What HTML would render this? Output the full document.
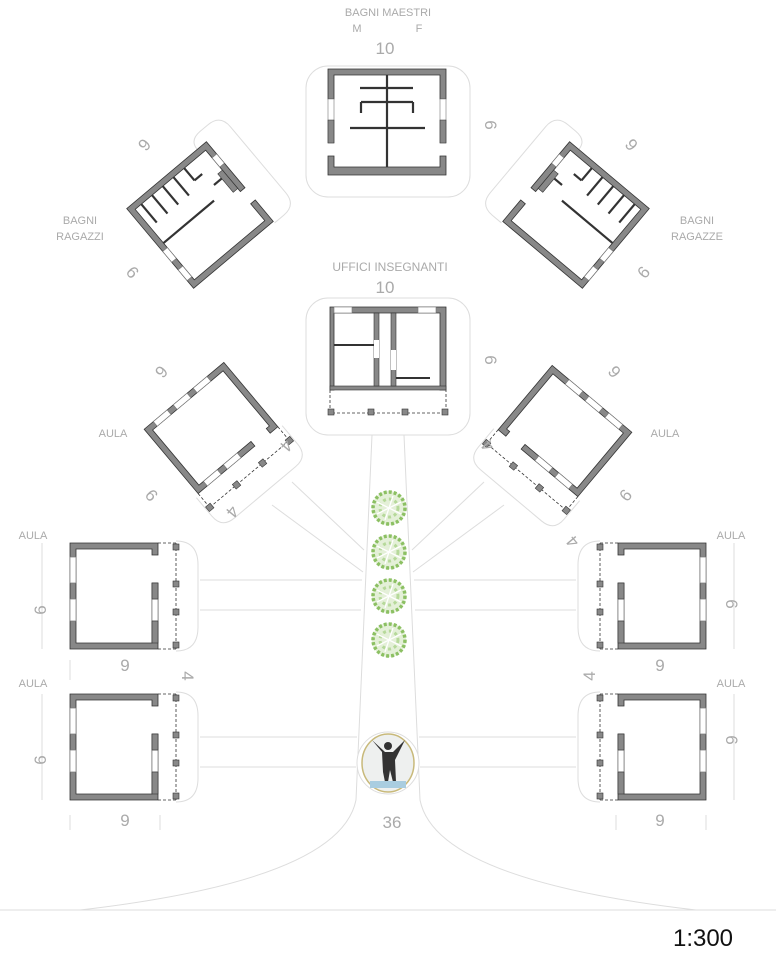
<!DOCTYPE html>
<html><head><meta charset="utf-8"><style>
html,body{margin:0;padding:0;background:#fff}
svg{display:block}
text{font-family:"Liberation Sans",sans-serif;fill:#aaa}
</style></head><body>
<svg width="776" height="960" viewBox="0 0 776 960" xmlns="http://www.w3.org/2000/svg">
<defs>
<g id="aula">
  <path d="M106,-2 Q128,-2 128,22 L128,84 Q128,108 106,108" fill="none" stroke="#ddd"/>
  <path d="M0,0H88V12H82V6H6V100H82V40H88V106H0Z" fill="#888" stroke="#333" stroke-width="0.8"/>
  <rect x="0" y="14" width="6" height="26" fill="#fff" stroke="#777" stroke-width="0.7"/>
  <rect x="0" y="56" width="6" height="22" fill="#fff" stroke="#777" stroke-width="0.7"/>
  <rect x="82" y="56" width="6" height="22" fill="#fff" stroke="#777" stroke-width="0.7"/>
  <rect x="82" y="40" width="6" height="16" fill="#888" stroke="#333" stroke-width="0.6"/>
  <rect x="82" y="78" width="6" height="22" fill="#888" stroke="#333" stroke-width="0.6"/>
  <line x1="106" y1="0" x2="106" y2="106" stroke="#333" stroke-dasharray="3,2" stroke-width="0.8"/>
  <line x1="88" y1="0" x2="106" y2="0" stroke="#333" stroke-dasharray="3,2" stroke-width="0.8"/>
  <line x1="88" y1="106" x2="106" y2="106" stroke="#333" stroke-dasharray="3,2" stroke-width="0.8"/>
  <rect x="103" y="1" width="6" height="6" fill="#888" stroke="#333" stroke-width="0.6"/>
  <rect x="103" y="38" width="6" height="6" fill="#888" stroke="#333" stroke-width="0.6"/>
  <rect x="103" y="66" width="6" height="6" fill="#888" stroke="#333" stroke-width="0.6"/>
  <rect x="103" y="99" width="6" height="6" fill="#888" stroke="#333" stroke-width="0.6"/>
</g>
<g id="raula">
  <path d="M-56,44 L-56,68 Q-56,84 -40,84 L40,84 Q56,84 56,68 L56,44" fill="none" stroke="#ddd"/>
  <path d="M-52,-42H52V42H42V36H46V-36H-46V36H22V42H-52Z" fill="#888" stroke="#333" stroke-width="0.8"/>
  <rect x="-40" y="-42" width="18" height="6" fill="#fff" stroke="#777" stroke-width="0.6"/>
  <rect x="-14" y="-42" width="18" height="6" fill="#fff" stroke="#777" stroke-width="0.6"/>
  <rect x="12" y="-42" width="18" height="6" fill="#fff" stroke="#777" stroke-width="0.6"/>
  <rect x="-40" y="36" width="18" height="6" fill="#fff" stroke="#777" stroke-width="0.6"/>
  <rect x="-14" y="36" width="18" height="6" fill="#fff" stroke="#777" stroke-width="0.6"/>
  <line x1="-52" y1="60" x2="52" y2="60" stroke="#333" stroke-dasharray="3,2" stroke-width="0.8"/>
  <line x1="-52" y1="42" x2="-52" y2="60" stroke="#333" stroke-dasharray="3,2" stroke-width="0.8"/>
  <line x1="52" y1="42" x2="52" y2="60" stroke="#333" stroke-dasharray="3,2" stroke-width="0.8"/>
  <rect x="-55" y="57" width="6" height="6" fill="#888" stroke="#333" stroke-width="0.6"/>
  <rect x="-20" y="57" width="6" height="6" fill="#888" stroke="#333" stroke-width="0.6"/>
  <rect x="14" y="57" width="6" height="6" fill="#888" stroke="#333" stroke-width="0.6"/>
  <rect x="49" y="57" width="6" height="6" fill="#888" stroke="#333" stroke-width="0.6"/>
</g>
<g id="bagno">
  <path d="M40,-52 Q40,-64 54,-64 L64,-64 Q80,-64 80,-48 L80,38 Q80,54 64,54 L52,54" fill="none" stroke="#ddd"/>
  <path d="M-52,-52H52V8H46V-46H-46V46H46V24H52V52H-52Z" fill="#888" stroke="#333" stroke-width="0.8"/>
  <rect x="-52" y="4" width="6" height="14" fill="#fff" stroke="#777" stroke-width="0.6"/>
  <rect x="-52" y="28" width="6" height="14" fill="#fff" stroke="#777" stroke-width="0.6"/>
  <rect x="46" y="-36" width="6" height="12" fill="#fff" stroke="#777" stroke-width="0.6"/>
  <rect x="40" y="-20" width="6" height="24" fill="#888" stroke="#333" stroke-width="0.6"/>
  <g stroke="#333" stroke-width="2.2">
    <line x1="-38" y1="-46" x2="-38" y2="-22"/>
    <line x1="-24" y1="-46" x2="-24" y2="-22"/>
    <line x1="-10" y1="-46" x2="-10" y2="-22"/>
    <line x1="4" y1="-46" x2="4" y2="-22"/>
    <line x1="18" y1="-46" x2="18" y2="-30"/><line x1="18" y1="-30" x2="28" y2="-30"/>
    <line x1="-46" y1="-2" x2="20" y2="-2"/>
    <line x1="30" y1="-14" x2="40" y2="-14"/>
  </g>
</g>
<g id="tree">
  <circle r="17" fill="#e4f0d8"/>
  <circle r="16" fill="none" stroke="#8cc063" stroke-width="3.5" stroke-dasharray="3,2"/>
  <circle r="9" fill="none" stroke="#b6d99a" stroke-width="3" stroke-dasharray="3,3"/>
  <g stroke="#fff" stroke-width="1.3"><line x1="-12" y1="-6" x2="12" y2="6"/><line x1="-4" y1="12" x2="4" y2="-12"/><line x1="-12" y1="6" x2="12" y2="-6"/></g>
</g>
</defs>

<g fill="none" stroke="#ddd" stroke-width="1">
  <path d="M372,435 L356,800 Q340,880 80,910"/>
  <path d="M404,435 L420,800 Q436,880 696,910"/>
  <line x1="0" y1="910" x2="776" y2="910"/>
  <line x1="200" y1="580" x2="362" y2="580"/><line x1="200" y1="610" x2="361" y2="610"/>
  <line x1="200" y1="737" x2="357" y2="737"/><line x1="200" y1="767" x2="356" y2="767"/>
  <line x1="576" y1="580" x2="414" y2="580"/><line x1="576" y1="610" x2="415" y2="610"/>
  <line x1="576" y1="737" x2="419" y2="737"/><line x1="576" y1="767" x2="420" y2="767"/>
  <line x1="292" y1="482" x2="364" y2="550"/><line x1="272" y1="505" x2="363" y2="572"/>
  <line x1="484" y1="482" x2="412" y2="550"/><line x1="504" y1="505" x2="413" y2="572"/>
  <line x1="70" y1="660" x2="70" y2="680"/><line x1="70" y1="815" x2="70" y2="830"/>
  <line x1="160" y1="815" x2="160" y2="830"/><line x1="616" y1="815" x2="616" y2="830"/><line x1="706" y1="815" x2="706" y2="830"/>
  <line x1="42" y1="543" x2="42" y2="649"/><line x1="42" y1="694" x2="42" y2="800"/>
  <line x1="734" y1="543" x2="734" y2="649"/><line x1="734" y1="694" x2="734" y2="800"/>
  <rect x="306" y="66" width="164" height="131" rx="22"/>
  <rect x="306" y="298" width="164" height="137" rx="22"/>
</g>

<g>
  <path d="M328,69H446V99H440V75H334V99H328Z" fill="#888" stroke="#333" stroke-width="0.8"/>
  <path d="M328,99V143H334V99ZM440,99V143H446V99Z" fill="#fff" stroke="#777" stroke-width="0.6"/>
  <path d="M328,120H334V143H328ZM440,120H446V143H440Z" fill="#888" stroke="#333" stroke-width="0.6"/>
  <path d="M328,156H334V167H440V156H446V175H328Z" fill="#888" stroke="#333" stroke-width="0.8"/>
  <g stroke="#333" stroke-width="2.2">
    <line x1="387" y1="75" x2="387" y2="167"/>
    <line x1="360" y1="88" x2="413" y2="88"/>
    <line x1="361" y1="102" x2="413" y2="102"/><line x1="361" y1="102" x2="361" y2="113"/><line x1="413" y1="102" x2="413" y2="113"/>
    <line x1="350" y1="128" x2="425" y2="128"/>
  </g>
</g>

<g>
  <path d="M330,307H446V390H440V313H334V390H330Z" fill="#888" stroke="#333" stroke-width="0.8"/>
  <rect x="330" y="386" width="116" height="4" fill="#888" stroke="#333" stroke-width="0.6"/>
  <rect x="334" y="307" width="18" height="6" fill="#fff" stroke="#777" stroke-width="0.6"/>
  <rect x="418" y="307" width="18" height="6" fill="#fff" stroke="#777" stroke-width="0.6"/>
  <rect x="374" y="313" width="5" height="73" fill="#888" stroke="#333" stroke-width="0.6"/>
  <rect x="391" y="313" width="5" height="73" fill="#888" stroke="#333" stroke-width="0.6"/>
  <rect x="374" y="340" width="5" height="18" fill="#fff"/>
  <rect x="391" y="350" width="5" height="20" fill="#fff"/>
  <g stroke="#333" stroke-width="2"><line x1="334" y1="345" x2="374" y2="345"/><line x1="396" y1="378" x2="430" y2="378"/></g>
  <path d="M330,390V413H446V390" fill="none" stroke="#333" stroke-dasharray="3,2" stroke-width="0.8"/>
  <g fill="#888" stroke="#333" stroke-width="0.6">
    <rect x="328" y="409" width="6" height="6"/><rect x="368" y="409" width="6" height="6"/><rect x="402" y="409" width="6" height="6"/><rect x="442" y="409" width="6" height="6"/>
  </g>
</g>

<use href="#bagno" transform="translate(200,215) rotate(-40)"/>
<use href="#bagno" transform="translate(576,215) scale(-1,1) rotate(-40)"/>
<use href="#raula" transform="translate(211,428) rotate(-40)"/>
<use href="#raula" transform="translate(565,431) scale(-1,1) rotate(-40)"/>

<use href="#aula" transform="translate(70,543)"/>
<use href="#aula" transform="translate(70,694)"/>
<use href="#aula" transform="translate(706,543) scale(-1,1)"/>
<use href="#aula" transform="translate(706,694) scale(-1,1)"/>

<use href="#tree" transform="translate(389,508)"/>
<use href="#tree" transform="translate(389,552)"/>
<use href="#tree" transform="translate(389,596)"/>
<use href="#tree" transform="translate(389,640)"/>

<circle cx="388" cy="763" r="31" fill="#fff" stroke="#ddd"/>
<ellipse cx="388" cy="763" rx="26" ry="29" fill="#eef0ef" stroke="#c8b97a" stroke-width="1.5"/>
<path d="M372,740 L382,752 L383,772 L385,782 L388,782 L390,770 L393,782 L396,782 L395,760 L405,740 L393,752 L385,752Z" fill="#333"/>
<circle cx="388" cy="746" r="4" fill="#333"/>
<rect x="370" y="781" width="36" height="7" fill="#a9cde0"/>

<g font-size="11" text-anchor="middle">
  <text x="388" y="16">BAGNI MAESTRI</text>
  <text x="357" y="32">M</text><text x="419" y="32">F</text>
  <text x="390" y="271" font-size="12">UFFICI INSEGNANTI</text>
  <text x="80" y="224">BAGNI</text><text x="80" y="240">RAGAZZI</text>
  <text x="697" y="224">BAGNI</text><text x="697" y="240">RAGAZZE</text>
  <text x="113" y="437">AULA</text><text x="665" y="437">AULA</text>
  <text x="33" y="539">AULA</text><text x="731" y="539">AULA</text>
  <text x="33" y="687">AULA</text><text x="731" y="687">AULA</text>
</g>
<g font-size="17" text-anchor="middle">
  <text x="385" y="54">10</text>
  <text x="385" y="293">10</text>
  <text x="392" y="828">36</text>
  <text x="125" y="671">9</text><text x="125" y="826">9</text>
  <text x="660" y="671">9</text><text x="660" y="826">9</text>
  <text transform="translate(485,125) rotate(90)">6</text>
  <text transform="translate(485,360) rotate(90)">6</text>
  <text transform="translate(46,610) rotate(-90)">6</text>
  <text transform="translate(46,760) rotate(-90)">6</text>
  <text transform="translate(726,604) rotate(90)">6</text>
  <text transform="translate(726,740) rotate(90)">6</text>
  <text transform="translate(182,676) rotate(90)">4</text>
  <text transform="translate(595,676) rotate(-90)">4</text>
  <text transform="translate(140,141) rotate(130)">6</text>
  <text transform="translate(128,276) rotate(50)">6</text>
  <text transform="translate(636,141) rotate(-130)">6</text>
  <text transform="translate(648,276) rotate(-50)">6</text>
  <text transform="translate(157,368) rotate(130)">6</text>
  <text transform="translate(147,499) rotate(50)">6</text>
  <text transform="translate(619,368) rotate(-130)">6</text>
  <text transform="translate(630,499) rotate(-50)">6</text>
  <text transform="translate(282,442) rotate(130)">4</text>
  <text transform="translate(228,508) rotate(130)">4</text>
  <text transform="translate(492,442) rotate(-130)">4</text>
  <text transform="translate(577,538) rotate(-130)">4</text>
</g>
<text x="703" y="946" font-size="24" text-anchor="middle" style="fill:#111">1:300</text>
</svg>
</body></html>
